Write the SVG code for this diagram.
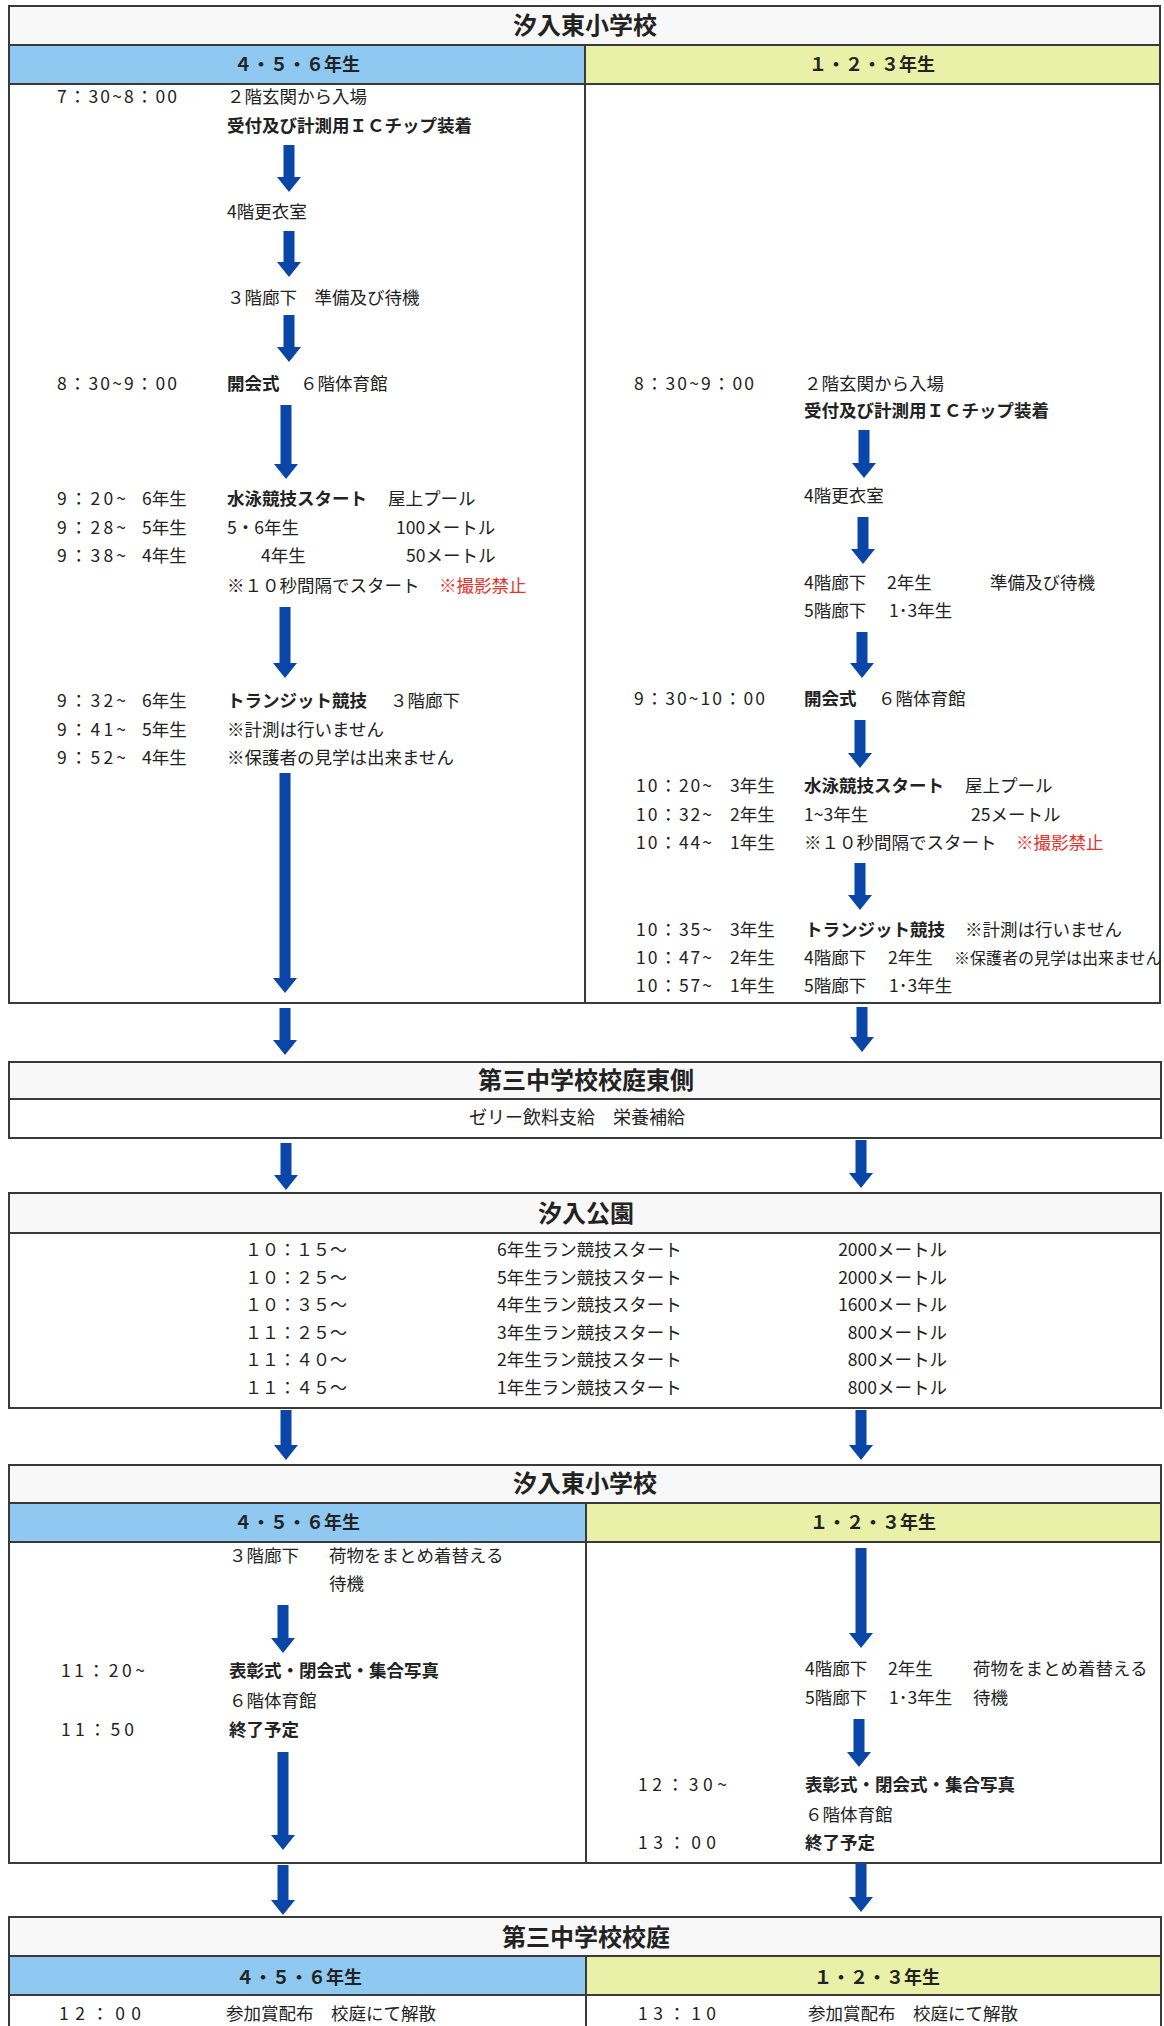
<svg xmlns="http://www.w3.org/2000/svg" width="1164" height="2026" viewBox="0 0 1164 2026">
<style>
text{font-family:"Noto Sans CJK JP","Noto Sans",sans-serif;fill:#222;font-size:17.5px}
.b{font-weight:bold}
.t{font-size:24px;font-weight:bold;text-anchor:middle}
.h{font-size:18px;font-weight:bold;text-anchor:middle}
.m{text-anchor:middle}
.e{text-anchor:end}
.r{fill:#e5322d}
.s{font-size:16px}
.p{font-size:17px}
.box{fill:#fff;stroke:#3a3a3a;stroke-width:2}
.ttl{fill:#f8f8f8;stroke:#3a3a3a;stroke-width:2}
.blue{fill:#8fc9f1;stroke:#3a3a3a;stroke-width:2}
.yel{fill:#e9f1a8;stroke:#3a3a3a;stroke-width:2}
.ln{stroke:#3a3a3a;stroke-width:2;fill:none}
.arr{fill:#0a45a8}
</style>

<g id="box1">
<rect class="box" x="9" y="6" width="1151" height="997"/>
<rect class="ttl" x="9" y="6" width="1151" height="39"/>
<rect class="blue" x="9" y="45" width="576" height="39"/>
<rect class="yel" x="585" y="45" width="575" height="39"/>
<line class="ln" x1="585" y1="84" x2="585" y2="1003"/>
<text class="t" x="585" y="34">汐入東小学校</text>
<text class="h" x="297" y="71">４・５・６年生</text>
<text class="h" x="872" y="71">１・２・３年生</text>
<text x="57" y="103" textLength="120">7：30~8：00</text>
<text x="227" y="103">２階玄関から入場</text>
<text class="b" x="227" y="132">受付及び計測用ＩＣチップ装着</text>
<text x="227" y="218">4階更衣室</text>
<text x="227" y="304">３階廊下　準備及び待機</text>
<text x="57" y="390" textLength="120">8：30~9：00</text>
<text class="b" x="227" y="390">開会式</text>
<text x="300" y="390">６階体育館</text>
<text x="57" y="505" textLength="69">9：20~</text><text x="142" y="505">6年生</text><text class="b" x="227" y="505">水泳競技スタート</text><text x="388" y="505">屋上プール</text>
<text x="57" y="534" textLength="69">9：28~</text><text x="142" y="534">5年生</text><text x="227" y="534">5・6年生</text><text x="396" y="534">100メートル</text>
<text x="57" y="562" textLength="69">9：38~</text><text x="142" y="562">4年生</text><text x="261" y="562">4年生</text><text x="406" y="562">50メートル</text>
<text x="227" y="592">※１０秒間隔でスタート</text><text class="r" x="439" y="592">※撮影禁止</text>
<text x="57" y="707" textLength="69">9：32~</text><text x="142" y="707">6年生</text><text class="b" x="227" y="707">トランジット競技</text><text x="390" y="707">３階廊下</text>
<text x="57" y="736" textLength="69">9：41~</text><text x="142" y="736">5年生</text><text x="227" y="736">※計測は行いません</text>
<text x="57" y="764" textLength="69">9：52~</text><text x="142" y="764">4年生</text><text x="227" y="764">※保護者の見学は出来ません</text>

<text x="634" y="390" textLength="120">8：30~9：00</text>
<text x="804" y="390">２階玄関から入場</text>
<text class="b" x="804" y="417">受付及び計測用ＩＣチップ装着</text>
<text x="804" y="502">4階更衣室</text>
<text x="804" y="589">4階廊下</text><text x="887" y="589">2年生</text><text x="990" y="589">準備及び待機</text>
<text x="804" y="617">5階廊下</text><text x="889" y="617">1･3年生</text>
<text x="634" y="705" textLength="131">9：30~10：00</text>
<text class="b" x="804" y="705">開会式</text><text x="878" y="705">６階体育館</text>
<text x="636" y="792" textLength="76">10：20~</text><text x="730" y="792">3年生</text><text class="b" x="804" y="792">水泳競技スタート</text><text x="965" y="792">屋上プール</text>
<text x="636" y="821" textLength="76">10：32~</text><text x="730" y="821">2年生</text><text x="804" y="821">1~3年生</text><text x="971" y="821">25メートル</text>
<text x="636" y="849" textLength="76">10：44~</text><text x="730" y="849">1年生</text><text x="804" y="849">※１０秒間隔でスタート</text><text class="r" x="1016" y="849">※撮影禁止</text>
<text x="636" y="936" textLength="76">10：35~</text><text x="730" y="936">3年生</text><text class="b" x="805" y="936">トランジット競技</text><text x="965" y="936">※計測は行いません</text>
<text x="636" y="964" textLength="76">10：47~</text><text x="730" y="964">2年生</text><text x="804" y="964">4階廊下</text><text x="888" y="964">2年生</text><text class="s" x="954" y="964">※保護者の見学は出来ません</text>
<text x="636" y="992" textLength="76">10：57~</text><text x="730" y="992">1年生</text><text x="804" y="992">5階廊下</text><text x="889" y="992">1･3年生</text>
</g>

<g id="box2">
<rect class="box" x="9" y="1062" width="1152" height="76"/>
<rect class="ttl" x="9" y="1062" width="1152" height="37"/>
<text class="t" x="586" y="1089">第三中学校校庭東側</text>
<text class="m" x="577" y="1124" style="font-size:18px">ゼリー飲料支給　栄養補給</text>
</g>

<g id="box3">
<rect class="box" x="9" y="1193" width="1152" height="215"/>
<rect class="ttl" x="9" y="1193" width="1152" height="40"/>
<text class="t" x="586" y="1222">汐入公園</text>
<text class="p" x="245" y="1256">１０：１５～</text><text x="497" y="1256">6年生ラン競技スタート</text><text class="e" x="947" y="1256">2000メートル</text>
<text class="p" x="245" y="1284">１０：２５～</text><text x="497" y="1284">5年生ラン競技スタート</text><text class="e" x="947" y="1284">2000メートル</text>
<text class="p" x="245" y="1311">１０：３５～</text><text x="497" y="1311">4年生ラン競技スタート</text><text class="e" x="947" y="1311">1600メートル</text>
<text class="p" x="245" y="1339">１１：２５～</text><text x="497" y="1339">3年生ラン競技スタート</text><text class="e" x="947" y="1339">800メートル</text>
<text class="p" x="245" y="1366">１１：４０～</text><text x="497" y="1366">2年生ラン競技スタート</text><text class="e" x="947" y="1366">800メートル</text>
<text class="p" x="245" y="1394">１１：４５～</text><text x="497" y="1394">1年生ラン競技スタート</text><text class="e" x="947" y="1394">800メートル</text>
</g>

<g id="box4">
<rect class="box" x="9" y="1465" width="1152" height="398"/>
<rect class="ttl" x="9" y="1465" width="1152" height="38"/>
<rect class="blue" x="9" y="1503" width="577" height="39"/>
<rect class="yel" x="586" y="1503" width="575" height="39"/>
<line class="ln" x1="586" y1="1542" x2="586" y2="1863"/>
<text class="t" x="585" y="1492">汐入東小学校</text>
<text class="h" x="297" y="1529">４・５・６年生</text>
<text class="h" x="873" y="1529">１・２・３年生</text>
<text x="229" y="1562">３階廊下</text><text x="329" y="1562">荷物をまとめ着替える</text>
<text x="329" y="1590">待機</text>
<text x="61" y="1677" textLength="84">11：20~</text><text class="b" x="229" y="1677">表彰式・閉会式・集合写真</text>
<text x="229" y="1707">６階体育館</text>
<text x="61" y="1736" textLength="73">11：50</text><text class="b" x="229" y="1736">終了予定</text>
<text x="805" y="1675">4階廊下</text><text x="888" y="1675">2年生</text><text x="973" y="1675">荷物をまとめ着替える</text>
<text x="805" y="1704">5階廊下</text><text x="889" y="1704">1･3年生</text><text x="973" y="1704">待機</text>
<text x="638" y="1791" textLength="89">12：30~</text><text class="b" x="805" y="1791">表彰式・閉会式・集合写真</text>
<text x="805" y="1821">６階体育館</text>
<text x="638" y="1849" textLength="78">13：00</text><text class="b" x="805" y="1849">終了予定</text>
</g>

<g id="box5">
<rect class="box" x="9" y="1917" width="1152" height="130"/>
<rect class="ttl" x="9" y="1917" width="1152" height="39"/>
<rect class="blue" x="9" y="1956" width="577" height="39"/>
<rect class="yel" x="586" y="1956" width="575" height="39"/>
<line class="ln" x1="586" y1="1995" x2="586" y2="2030"/>
<text class="t" x="586" y="1946">第三中学校校庭</text>
<text class="h" x="299" y="1984">４・５・６年生</text>
<text class="h" x="877" y="1984">１・２・３年生</text>
<text x="59" y="2020" textLength="82">12：00</text><text x="226" y="2020">参加賞配布　校庭にて解散</text>
<text x="638" y="2020" textLength="78">13：10</text><text x="808" y="2020">参加賞配布　校庭にて解散</text>
</g>

<g id="connectors">
<path class="arr" d="M283.5 145H294.5V177H301L289 192L277 177H283.5Z"/>
<path class="arr" d="M283.5 231H294.5V262H301L289 277L277 262H283.5Z"/>
<path class="arr" d="M283.5 315H294.5V347H301L289 362L277 347H283.5Z"/>
<path class="arr" d="M280.5 405H291.5V464H298L286 479L274 464H280.5Z"/>
<path class="arr" d="M279.5 607H290.5V663H297L285 678L273 663H279.5Z"/>
<path class="arr" d="M279.5 773H290.5V978H297L285 993L273 978H279.5Z"/>
<path class="arr" d="M858.5 430H869.5V463H876L864 478L852 463H858.5Z"/>
<path class="arr" d="M857.5 517H868.5V549H875L863 564L851 549H857.5Z"/>
<path class="arr" d="M856.5 632H867.5V663H874L862 678L850 663H856.5Z"/>
<path class="arr" d="M854.5 720H865.5V753H872L860 768L848 753H854.5Z"/>
<path class="arr" d="M854.5 863H865.5V895H872L860 910L848 895H854.5Z"/>
<path class="arr" d="M279.5 1008H290.5V1040H297L285 1055L273 1040H279.5Z"/>
<path class="arr" d="M856.5 1007H867.5V1037H874L862 1052L850 1037H856.5Z"/>
<path class="arr" d="M280.5 1143H291.5V1175H298L286 1190L274 1175H280.5Z"/>
<path class="arr" d="M855.5 1140H866.5V1173H873L861 1188L849 1173H855.5Z"/>
<path class="arr" d="M280.5 1410H291.5V1445H298L286 1460L274 1445H280.5Z"/>
<path class="arr" d="M855.5 1410H866.5V1445H873L861 1460L849 1445H855.5Z"/>
<path class="arr" d="M277.5 1605H288.5V1638H295L283 1653L271 1638H277.5Z"/>
<path class="arr" d="M277.5 1752H288.5V1835H295L283 1850L271 1835H277.5Z"/>
<path class="arr" d="M855.5 1548H866.5V1633H873L861 1648L849 1633H855.5Z"/>
<path class="arr" d="M853.5 1719H864.5V1752H871L859 1767L847 1752H853.5Z"/>
<path class="arr" d="M277.5 1865H288.5V1900H295L283 1915L271 1900H277.5Z"/>
<path class="arr" d="M855.5 1863H866.5V1897H873L861 1912L849 1897H855.5Z"/>
</g>
</svg>
